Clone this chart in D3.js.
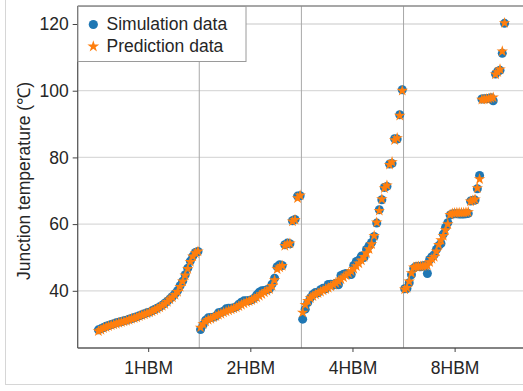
<!DOCTYPE html>
<html>
<head>
<meta charset="utf-8">
<script src="https://cdn.jsdelivr.net/npm/d3@7"></script>
<style>
  body { margin: 0; background: #fff; }
  svg { display: block; }
  text { font-family: "Liberation Sans", Arial, sans-serif; fill: #262626; }
</style>
</head>
<body>
<svg id="chart" width="523" height="391"></svg>
<script>
// Junction temperature per configuration: simulated vs. predicted (°C), in sample order
const categories = ["1HBM", "2HBM", "4HBM", "8HBM"];

const sim1HBM = [28.3, 28.6, 29.0, 29.4, 29.6, 29.9, 30.1, 30.4, 30.6, 30.8, 31.0, 31.2, 31.5, 31.7, 32.0, 32.2, 32.5, 32.8, 33.1, 33.4,
                 33.6, 34.0, 34.4, 34.8, 35.2, 35.7, 36.3, 36.9, 37.6, 38.3, 39.1, 40.0, 41.5, 42.9, 44.8, 46.8, 48.9, 50.4, 51.5, 51.8];
const pred1HBM = [27.9, 28.3, 28.8, 29.1, 29.4, 29.7, 29.9, 30.1, 30.4, 30.6, 30.8, 31.0, 31.3, 31.6, 31.8, 32.0, 32.4, 32.7, 32.9, 33.2,
                  33.5, 33.8, 34.2, 34.6, 35.0, 35.5, 36.0, 36.7, 37.4, 38.0, 38.8, 39.7, 41.2, 42.8, 44.6, 46.6, 48.7, 50.3, 51.3, 51.8];

const sim2HBM = [28.4, 29.8, 31.2, 31.9, 32.0, 32.1, 32.4, 33.4, 33.6, 33.9, 34.6, 34.8, 34.8, 34.9, 35.2, 36.0, 36.6, 37.0, 37.0, 37.1,
                 37.3, 37.8, 38.8, 39.6, 40.0, 40.1, 40.3, 40.6, 42.0, 43.8, 47.2, 47.8, 47.6, 53.8, 54.3, 54.1, 61.0, 61.4, 68.4, 68.5];
const pred2HBM = [29.0, 30.0, 30.8, 31.3, 31.6, 32.0, 32.4, 32.8, 33.1, 33.5, 33.8, 34.1, 34.4, 34.7, 35.0, 35.4, 35.8, 36.2, 36.6, 36.9,
                  37.2, 37.6, 38.0, 38.5, 39.0, 39.5, 40.0, 40.5, 41.5, 43.2, 46.5, 47.0, 47.5, 53.5, 54.0, 54.2, 60.8, 61.3, 67.8, 68.6];

const sim4HBM = [31.5, 34.5, 36.5, 37.9, 38.9, 39.5, 39.4, 40.3, 40.8, 40.6, 41.9, 42.0, 41.7, 42.3, 41.8, 44.6, 45.0, 45.2, 45.0, 44.9,
                 47.6, 48.8, 49.2, 50.4, 50.0, 52.4, 53.5, 54.5, 56.3, 60.3, 64.3, 67.3, 71.0, 71.3, 78.0, 78.2, 85.6, 85.5, 92.8, 100.3];
const pred4HBM = [33.5, 35.8, 37.0, 37.8, 38.4, 38.9, 39.3, 39.7, 40.1, 40.5, 40.9, 41.3, 41.8, 42.3, 42.8, 43.4, 44.0, 44.6, 45.2, 45.9,
                  46.6, 47.4, 48.2, 49.1, 50.2, 51.3, 52.5, 54.0, 56.5, 60.5, 64.0, 67.5, 70.8, 71.6, 77.8, 78.6, 85.2, 85.8, 92.5, 100.0];

const sim8HBM = [40.6, 40.7, 42.4, 44.8, 46.8, 47.3, 47.4, 47.2, 47.5, 47.6, 45.2, 49.4, 50.2, 50.8, 52.4, 53.5, 54.2, 57.0, 59.0, 60.4,
                 62.7, 63.0, 63.1, 63.1, 63.0, 63.0, 63.0, 63.1, 63.2, 66.9, 67.1, 67.2, 70.6, 74.6, 97.5, 97.6, 97.6, 97.7, 97.9, 97.0,
                 105.0, 105.8, 106.1, 111.2, 120.2];
const pred8HBM = [40.4, 40.9, 42.8, 45.3, 47.0, 47.2, 47.3, 47.3, 47.4, 47.5, 47.6, 48.6, 49.6, 50.2, 51.8, 53.8, 55.2, 56.5, 58.2, 60.0,
                  62.8, 63.2, 63.3, 63.4, 63.4, 63.4, 63.4, 63.5, 63.6, 66.8, 67.1, 67.4, 70.8, 73.5, 97.3, 97.4, 97.5, 97.6, 97.8, 98.0,
                  104.9, 105.6, 106.4, 111.8, 120.3];

const simulation = [sim1HBM, sim2HBM, sim4HBM, sim8HBM];
const prediction = [pred1HBM, pred2HBM, pred4HBM, pred8HBM];

const yTicks = [40, 60, 80, 100, 120];
const seriesNames = ["Simulation data", "Prediction data"];
const colors = { sim: "#1f77b4", pred: "#ff7f0e" };

// ---- layout ----
const svg = d3.select("#chart");
const plot = { left: 77.7, top: 6, right: 525.1, bottom: 348 };

const x = d3.scaleLinear().domain([-0.19, 4.19]).range([plot.left, plot.right]);
const y = d3.scaleLinear().domain([22.85, 125.4]).range([plot.bottom, plot.top]);

// Samples of each configuration are spread evenly across its unit slot
function toPoints(groups) {
  const pts = [];
  groups.forEach((vals, g) => {
    vals.forEach((v, i) => pts.push({ x: g + (i + 0.5) / vals.length, v }));
  });
  return pts;
}
const simPts = toPoints(simulation);
const predPts = toPoints(prediction);

const KA = 0.8908130915292852; // d3 star: outer radius = sqrt(size * KA)
const starSymbol = r => d3.symbol().type(d3.symbolStar).size(r * r / KA)();

// Figure frame
svg.append("rect")
  .attr("x", 5.5).attr("y", -10)
  .attr("width", 600).attr("height", 394.5)
  .attr("fill", "none").attr("stroke", "#d6d6d6").attr("stroke-width", 1);

// Horizontal gridlines
svg.append("g").selectAll("line").data(yTicks).join("line")
  .attr("x1", plot.left).attr("x2", plot.right)
  .attr("y1", d => y(d)).attr("y2", d => y(d))
  .attr("stroke", "#dadada").attr("stroke-width", 1.3);

// Separators between configurations
svg.append("g").selectAll("line").data(d3.range(1, categories.length)).join("line")
  .attr("x1", d => x(d)).attr("x2", d => x(d))
  .attr("y1", plot.top).attr("y2", plot.bottom)
  .attr("stroke", "#a8a8a8").attr("stroke-width", 1);

// Scatter: simulation circles underneath, prediction stars on top
const circleR = 4.5;
const starR = 6.0;

svg.append("g").selectAll("circle").data(simPts).join("circle")
  .attr("cx", d => x(d.x)).attr("cy", d => y(d.v)).attr("r", circleR)
  .attr("fill", colors.sim);

svg.append("g").selectAll("path").data(predPts).join("path")
  .attr("d", starSymbol(starR))
  .attr("transform", d => `translate(${x(d.x)},${y(d.v)})`)
  .attr("fill", colors.pred);

// Spines
const spineColor = "#5a5a5a";
svg.append("line").attr("x1", plot.left).attr("x2", plot.right).attr("y1", plot.top).attr("y2", plot.top)
  .attr("stroke", "#8a8a8a").attr("stroke-width", 1.3);
svg.append("line").attr("x1", plot.left).attr("x2", plot.left).attr("y1", plot.top).attr("y2", plot.bottom)
  .attr("stroke", spineColor).attr("stroke-width", 1.3);
svg.append("line").attr("x1", plot.left).attr("x2", plot.right).attr("y1", plot.bottom).attr("y2", plot.bottom)
  .attr("stroke", spineColor).attr("stroke-width", 1.3);

// Y axis
const yAxis = svg.append("g")
  .attr("transform", `translate(${plot.left},0)`)
  .call(d3.axisLeft(y).tickValues(yTicks).tickSize(5).tickPadding(4));
yAxis.select(".domain").remove();
yAxis.selectAll(".tick line").attr("stroke", "#444");
yAxis.selectAll(".tick text").style("font-size", "17.5px").attr("fill", "#262626");

// X axis: one tick per configuration, centred in its slot
const xAxis = svg.append("g")
  .attr("transform", `translate(0,${plot.bottom})`)
  .call(d3.axisBottom(x).tickValues(categories.map((c, i) => i + 0.5))
    .tickFormat((d, i) => categories[i]).tickSize(4).tickPadding(10));
xAxis.select(".domain").remove();
xAxis.selectAll(".tick line").attr("stroke", "#444");
xAxis.selectAll(".tick text").style("font-size", "17.5px").attr("fill", "#262626");

// Y axis title
svg.append("text")
  .attr("transform", `translate(30,181) rotate(-90)`)
  .attr("text-anchor", "middle")
  .style("font-size", "17.5px")
  .text("Junction temperature (℃)");

// Legend
const legend = svg.append("g");
legend.append("rect")
  .attr("x", 78).attr("y", 6.5).attr("width", 168).attr("height", 55)
  .attr("fill", "#fff").attr("stroke", "#9a9a9a").attr("stroke-width", 1);
legend.append("circle").attr("cx", 93.3).attr("cy", 24.5).attr("r", 4.6).attr("fill", colors.sim);
legend.append("path")
  .attr("d", starSymbol(6.2))
  .attr("transform", "translate(93.3,46.5)")
  .attr("fill", colors.pred);
legend.selectAll("text.lbl").data(seriesNames).join("text")
  .attr("class", "lbl")
  .attr("x", 106.5).attr("y", (d, i) => 30.2 + i * 21.8)
  .style("font-size", "17.5px")
  .text(d => d);
</script>
</body>
</html>
